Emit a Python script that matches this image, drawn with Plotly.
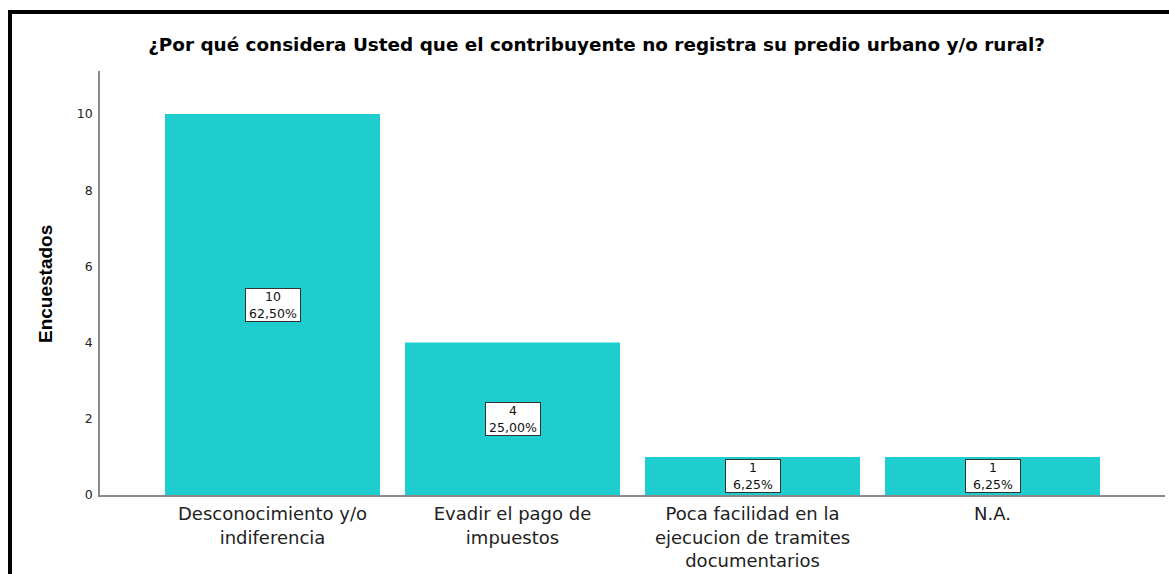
import plotly.graph_objects as go

# ---- data ----
categories = ["Desconocimiento y/o indiferencia", "Evadir el pago de impuestos",
              "Poca facilidad en la ejecucion de tramites documentarios", "N.A."]
category_ticktext = ["Desconocimiento y/o<br>indiferencia",
                     "Evadir el pago de<br>impuestos",
                     "Poca facilidad en la<br>ejecucion de tramites<br>documentarios",
                     "N.A."]
counts = [10, 4, 1, 1]
percent_labels = ["62,50%", "25,00%", "6,25%", "6,25%"]
y_tickvals = [0, 2, 4, 6, 8, 10]

title_text = "¿Por qué considera Usted que el contribuyente no registra su predio urbano y/o rural?"
y_title = "Encuestados"

W, H = 1169, 574
ML, MR, MT, MB = 100, 4, 71, 79
plot_w = W - ML - MR
plot_h = H - MT - MB

FONT = "DejaVu Sans"
BAR_COLOR = "#1ecdcd"
AXIS_COLOR = "#8a8a8a"

x_pos = list(range(len(categories)))

fig = go.Figure()
fig.add_trace(go.Bar(
    x=x_pos, y=counts,
    marker=dict(color=BAR_COLOR, line=dict(width=0)),
    hovertext=categories, hoverinfo="text+y",
    showlegend=False,
))

# value boxes in the middle of each bar
for i, (c, p) in enumerate(zip(counts, percent_labels)):
    fig.add_annotation(
        x=x_pos[i], y=c / 2, xref="x", yref="y",
        text=f"{c}<br>{p}", showarrow=False,
        font=dict(family=FONT, size=12.5, color="#111111"),
        bgcolor="white", bordercolor="#333333", borderwidth=1, borderpad=1,
        width=52, height=30, align="center", valign="middle",
    )

# y axis title
fig.add_annotation(
    x=(45 - ML) / plot_w, y=(H - MB - 284) / plot_h, xref="paper", yref="paper",
    text=f"<b>{y_title}</b>", textangle=-90, showarrow=False,
    xanchor="center", yanchor="middle",
    font=dict(family="Liberation Sans, Arial", size=19, color="#000000"),
)

# black frame (top and left edges visible)
fig.add_shape(
    type="rect", xref="paper", yref="paper",
    x0=(10 - ML) / plot_w, x1=(1185 - ML) / plot_w,
    y0=(H - MB - 600) / plot_h, y1=(H - MB - 12) / plot_h,
    line=dict(color="black", width=4), fillcolor="rgba(0,0,0,0)", layer="above",
)

ymax = (H - MB - MT) / 38.1
fig.update_layout(
    width=W, height=H,
    margin=dict(l=ML, r=MR, t=MT, b=MB, pad=0),
    paper_bgcolor="white", plot_bgcolor="white",
    bargap=25 / 240,
    title=dict(text=f"<b>{title_text}</b>", x=596.5 / W, xanchor="center",
               xref="container", y=1 - 45 / H, yref="container", yanchor="middle",
               font=dict(family=FONT, size=18.4, color="#000000")),
    xaxis=dict(range=[-0.71875, 3.71875], showgrid=False, zeroline=False,
               showline=True, linecolor=AXIS_COLOR, linewidth=1.5,
               tickvals=x_pos, ticktext=category_ticktext, ticks="",
               ticklabelstandoff=2, tickangle=0,
               tickfont=dict(family=FONT, size=18, color="#222222")),
    yaxis=dict(range=[0, ymax], showgrid=False, zeroline=False,
               showline=True, linecolor=AXIS_COLOR, linewidth=1.5,
               tickvals=y_tickvals, ticks="", ticklabelstandoff=3,
               tickfont=dict(family=FONT, size=12.5, color="#222222")),
)

fig.write_html("out.html",
               config={"displayModeBar": False},
               post_script="document.body.style.margin='0';document.body.style.overflow='hidden';")
